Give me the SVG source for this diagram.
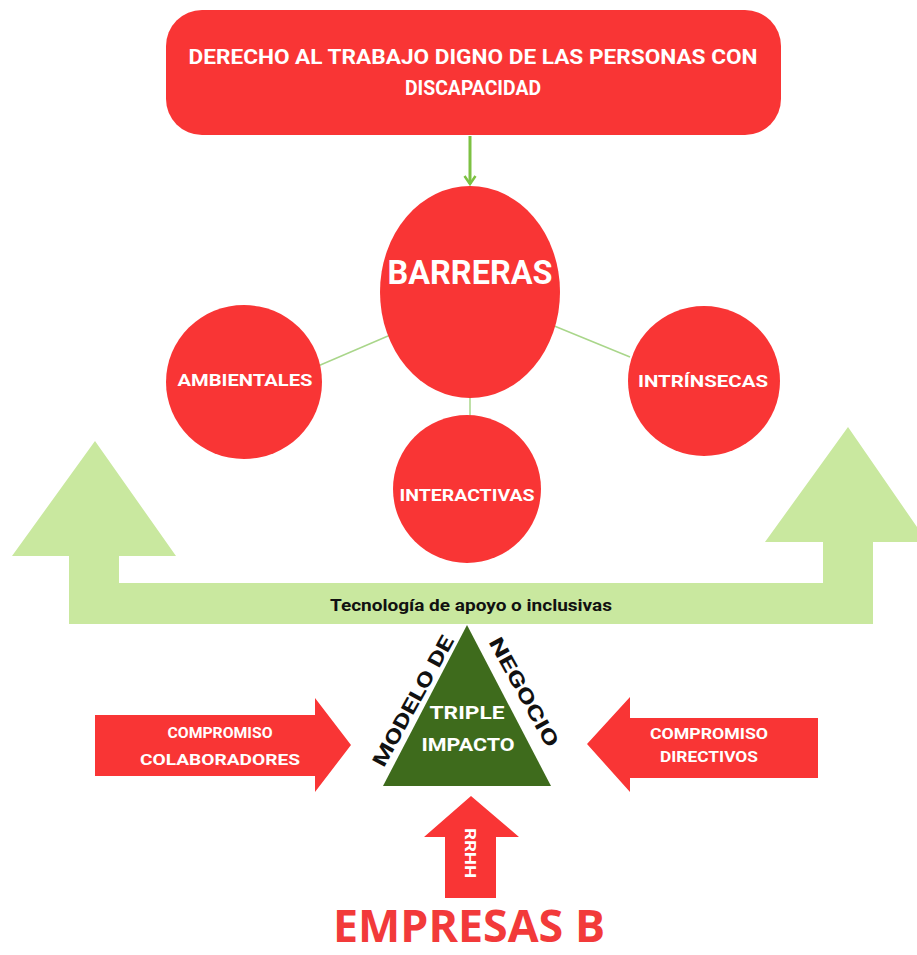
<svg xmlns="http://www.w3.org/2000/svg" width="917" height="955" viewBox="0 0 917 955">
<style>
.red{fill:#F93535}
.w{fill:#fff;font-family:Roboto,"Liberation Sans",sans-serif;font-weight:bold;text-anchor:middle}
.k{fill:#111;font-family:Roboto,"Liberation Sans",sans-serif;font-weight:bold;text-anchor:middle}
.lg{fill:#C9E89F}
.conn{stroke:#A9D68A;stroke-width:1.5;fill:none}
</style>
<defs>
<marker id="ah" markerWidth="14" markerHeight="14" refX="11" refY="7" orient="auto" markerUnits="userSpaceOnUse">
<path d="M3,1.5 L11,7 L3,12.5" fill="none" stroke="#7DC142" stroke-width="2.5"/>
</marker>
</defs>
<rect width="917" height="955" fill="#fff"/>

<g id="connectors">
<line x1="470" y1="136" x2="470" y2="184" stroke="#7DC142" stroke-width="3" marker-end="url(#ah)"/>
<line class="conn" x1="318" y1="366" x2="395" y2="333"/>
<line class="conn" x1="547" y1="323" x2="630" y2="357"/>
<line class="conn" x1="470" y1="396" x2="470" y2="418"/>
</g>

<g id="top">
<rect x="166" y="10" width="615" height="125" rx="36" class="red"/>
<text class="w" x="473" y="64" font-size="20" textLength="569" lengthAdjust="spacingAndGlyphs">DERECHO AL TRABAJO DIGNO DE LAS PERSONAS CON</text>
<text class="w" x="473" y="95" font-size="20" textLength="136" lengthAdjust="spacingAndGlyphs">DISCAPACIDAD</text>
</g>

<g id="barreras">
<ellipse cx="470" cy="292" rx="90" ry="106" class="red"/>
<text class="w" x="470" y="284" font-size="33" textLength="165" lengthAdjust="spacingAndGlyphs">BARRERAS</text>
</g>
<g id="ambientales">
<ellipse cx="244" cy="382" rx="78" ry="77" class="red"/>
<text class="w" x="245" y="386" font-size="17" textLength="135" lengthAdjust="spacingAndGlyphs">AMBIENTALES</text>
</g>
<g id="intrinsecas">
<ellipse cx="704" cy="381" rx="76" ry="75" class="red"/>
<text class="w" x="703" y="387" font-size="17" textLength="130" lengthAdjust="spacingAndGlyphs">INTRÍNSECAS</text>
</g>
<g id="interactivas">
<ellipse cx="467" cy="489" rx="74" ry="74" class="red"/>
<text class="w" x="467" y="501" font-size="17" textLength="135" lengthAdjust="spacingAndGlyphs">INTERACTIVAS</text>
</g>

<g id="tecnologia">
<path class="lg" d="M95,441 L176,556 L119,556 L119,583 L823,583 L823,542 L765,542 L848,427 L917,527 L917,542 L873,542 L873,624 L69,624 L69,556 L12,556 Z"/>
<text class="k" x="471" y="611" font-size="16" textLength="282" lengthAdjust="spacingAndGlyphs">Tecnología de apoyo o inclusivas</text>
</g>

<g id="triangulo">
<polygon points="467,625 383,786 551,786" fill="#3E6B1C"/>
<text class="w" x="467" y="719" font-size="18" textLength="75" lengthAdjust="spacingAndGlyphs">TRIPLE</text>
<text class="w" x="468" y="751" font-size="18" textLength="93" lengthAdjust="spacingAndGlyphs">IMPACTO</text>
<text class="k" font-size="20" transform="translate(413,701) rotate(-61)" x="0" y="7" textLength="146" lengthAdjust="spacingAndGlyphs">MODELO DE</text>
<text class="k" font-size="20" transform="translate(524,692) rotate(61)" x="0" y="7" textLength="122" lengthAdjust="spacingAndGlyphs">NEGOCIO</text>
</g>

<g id="colaboradores">
<polygon class="red" points="95,715 315,715 315,698 351,745 315,792 315,776 95,776"/>
<text class="w" x="220" y="738" font-size="15" textLength="105" lengthAdjust="spacingAndGlyphs">COMPROMISO</text>
<text class="w" x="220" y="765" font-size="15" textLength="160" lengthAdjust="spacingAndGlyphs">COLABORADORES</text>
</g>

<g id="directivos">
<polygon class="red" points="818,718 630,718 630,697 587,744 630,792 630,778 818,778"/>
<text class="w" x="709" y="739" font-size="15" textLength="118" lengthAdjust="spacingAndGlyphs">COMPROMISO</text>
<text class="w" x="709" y="762" font-size="15" textLength="98" lengthAdjust="spacingAndGlyphs">DIRECTIVOS</text>
</g>

<g id="rrhh">
<polygon class="red" points="471,796 519,837 496,837 496,898 445,898 445,837 424,837"/>
<text class="w" font-size="15" transform="translate(470,853) rotate(90)" x="0" y="5" textLength="50" lengthAdjust="spacingAndGlyphs">RRHH</text>
</g>

<g id="empresas">
<text x="469" y="942" fill="#F23A3A" font-family="'Open Sans','Liberation Sans',sans-serif" font-weight="bold" font-size="44" text-anchor="middle" textLength="272" lengthAdjust="spacingAndGlyphs">EMPRESAS B</text>
</g>
</svg>
